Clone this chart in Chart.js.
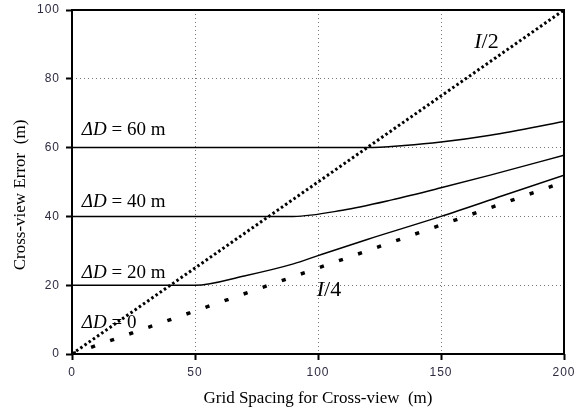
<!DOCTYPE html>
<html>
<head>
<meta charset="utf-8">
<script src="https://cdn.jsdelivr.net/npm/chart.js@4.4.0/dist/chart.umd.min.js"></script>
<style>
  html, body { margin: 0; padding: 0; background: #fff; }
  #wrap { width: 586px; height: 412px; position: relative; }
</style>
</head>
<body>
<div id="wrap"><canvas id="chart"></canvas></div>
<script>
// Values (x: grid spacing m, y: cross-view error m)
const xTicks = [0, 50, 100, 150, 200];
const yTicks = [0, 20, 40, 60, 80, 100];

const halfX = [0, 200];
const halfY = [0, 100];            // I/2
const quarterX = [0, 200];
const quarterY = [0, 50];          // I/4 (ΔD = 0)

const d20X = [0, 50, 70, 90, 100, 120, 150, 175, 200];
const d20Y = [20, 20, 22.7, 26.2, 28.6, 33.3, 40, 46, 52];
const d40X = [0, 90, 110, 130, 150, 170, 200];
const d40Y = [40, 40, 41.8, 44.8, 48.3, 52, 57.8];
const d60X = [0, 120, 135, 150, 170, 200];
const d60Y = [60, 60, 60.6, 61.6, 63.6, 67.6];

// text labels in data coordinates (baseline-left)
const labels = [
  { x: 4, y: 63.6, value: '60 m' },
  { x: 4, y: 42.8, value: '40 m' },
  { x: 4, y: 22.2, value: '20 m' },
  { x: 4, y: 7.6, value: '0' }
];
const ratioLabels = [
  { x: 163.5, y: 89, den: '2' },
  { x: 99.5, y: 16.8, den: '4' }
];

const pts = (xs, ys) => xs.map((x, i) => ({ x: x, y: ys[i] }));

const serif = '"Liberation Serif", "Times New Roman", serif';
const sans = '"Liberation Sans", Arial, sans-serif';

const textPlugin = {
  id: 'textPlugin',
  beforeDraw(chart) {
    // tick labels in the reference are spaced out a bit
    chart.ctx.letterSpacing = '1px';
  },
  beforeDatasetsDraw(chart) {
    chart.ctx.letterSpacing = '0px';
  },
  afterDraw(chart) {
    const { ctx, chartArea, scales } = chart;
    const xs = scales.x, ys = scales.y;
    ctx.save();
    ctx.letterSpacing = '0px';
    // frame
    ctx.strokeStyle = '#000';
    ctx.lineWidth = 2;
    ctx.strokeRect(chartArea.left, chartArea.top,
      chartArea.right - chartArea.left, chartArea.bottom - chartArea.top);

    ctx.fillStyle = '#000';
    ctx.textBaseline = 'alphabetic';
    ctx.textAlign = 'left';
    labels.forEach(l => {
      let px = xs.getPixelForValue(l.x);
      const py = ys.getPixelForValue(l.y);
      ctx.font = 'italic 19px ' + serif;
      ctx.fillText('\u0394D', px, py);
      px += ctx.measureText('\u0394D').width;
      ctx.font = '19px ' + serif;
      ctx.fillText(' = ' + l.value, px, py);
    });
    ratioLabels.forEach(l => {
      let px = xs.getPixelForValue(l.x);
      const py = ys.getPixelForValue(l.y);
      ctx.font = 'italic 22px ' + serif;
      ctx.fillText('I', px, py);
      px += ctx.measureText('I').width;
      ctx.font = '22px ' + serif;
      ctx.fillText('/' + l.den, px, py);
    });

    // axis titles
    ctx.font = '17px ' + serif;
    ctx.textAlign = 'center';
    ctx.textBaseline = 'alphabetic';
    ctx.fillText('Grid Spacing for Cross-view  (m)', (chartArea.left + chartArea.right) / 2, 403);

    ctx.textBaseline = 'middle';
    ctx.translate(21, 195);
    ctx.rotate(-Math.PI / 2);
    ctx.fillText('Cross-view Error  (m)', 0, 0);
    ctx.restore();
  }
};

const lineSet = (data, extra) => Object.assign({
  data: data,
  showLine: true,
  borderColor: '#000',
  backgroundColor: '#000',
  borderWidth: 1.5,
  pointRadius: 0,
  fill: false,
  cubicInterpolationMode: 'monotone'
}, extra);

const gridOpts = {
  color: '#777',
  lineWidth: 1,
  tickLength: 6,
  tickColor: '#000',
  tickWidth: 2,
  tickBorderDash: []
};

new Chart(document.getElementById('chart'), {
  type: 'scatter',
  data: {
    datasets: [
      lineSet(pts(d60X, d60Y)),
      lineSet(pts(d40X, d40Y)),
      lineSet(pts(d20X, d20Y)),
      lineSet(pts(halfX, halfY), { borderWidth: 3, borderDash: [2.5, 2.6] }),
      lineSet(pts(quarterX, quarterY), { borderWidth: 3.5, borderDash: [4.2, 16] })
    ]
  },
  options: {
    responsive: true,
    maintainAspectRatio: false,
    animation: false,
    layout: { padding: { top: 10, right: 22, left: 0, bottom: 0 } },
    plugins: {
      legend: { display: false },
      tooltip: { enabled: false }
    },
    scales: {
      x: {
        type: 'linear',
        min: 0, max: 200,
        afterBuildTicks: s => { s.ticks = xTicks.map(v => ({ value: v })); },
        afterFit: s => { s.height = 58; s.paddingLeft = 0; s.paddingRight = 0; },
        grid: gridOpts,
        border: { display: false, dash: [1, 3] },
        ticks: {
          color: '#2e2a40',
          font: { family: sans, size: 12 },
          padding: 5
        }
      },
      y: {
        type: 'linear',
        min: 0, max: 100,
        afterBuildTicks: s => { s.ticks = yTicks.map(v => ({ value: v })); },
        afterFit: s => { s.width = 72; s.paddingTop = 0; s.paddingBottom = 0; },
        grid: gridOpts,
        border: { display: false, dash: [1, 3] },
        ticks: {
          color: '#2e2a40',
          font: { family: sans, size: 12 },
          padding: 6
        }
      }
    }
  },
  plugins: [textPlugin]
});
</script>
</body>
</html>
